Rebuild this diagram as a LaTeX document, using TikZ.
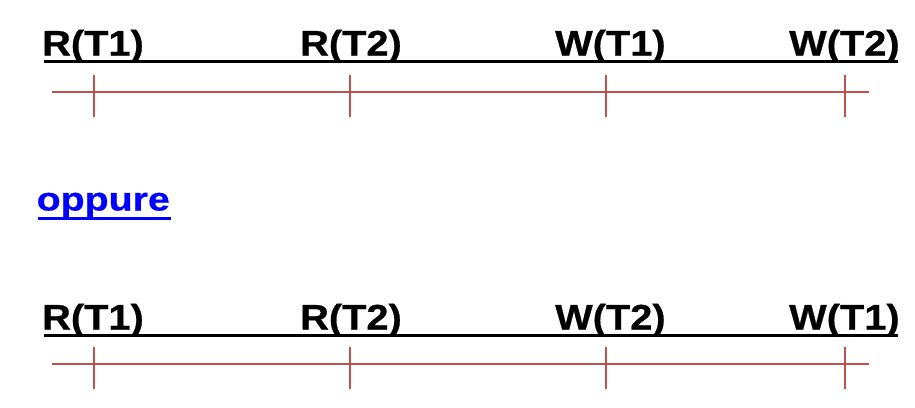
\documentclass[tikz,border=0pt]{standalone}
\usepackage{fontspec}
\setmainfont{Liberation Sans}[BoldFeatures={FakeBold=0.6}]
\definecolor{tickred}{RGB}{192,80,77}
\definecolor{linkblue}{RGB}{0,0,255}
\newcommand{\lbltext}[1]{\scalebox{1.12}[1]{#1}}
\newcommand{\linktext}[1]{\scalebox{1.19}[1]{#1}}
\begin{document}
\begin{tikzpicture}[x=1pt,y=-1pt,
  lbl/.style={anchor=base west, inner sep=0pt, font=\fontsize{35.5}{40}\selectfont\bfseries},
  baseline rule/.style={line width=3pt, black},
  timeline/.style={line width=1.8pt, tickred},
  tickmark/.style={line width=1.8pt, tickred}]
\useasboundingbox (0,0) rectangle (915,407);
% ---- top row
\node[lbl] (a1) at (42,55.5) {\lbltext{R(T1)}};
\node[lbl] (a2) at (300,55.5) {\lbltext{R(T2)}};
\node[lbl] (a3) at (555,55.5) {\lbltext{W(T1)}};
\node[lbl] (a4) at (789,55.5) {\lbltext{W(T2)}};
\coordinate (ua) at (44,61);
\coordinate (ub) at (898,61);
\draw[baseline rule] (ua) -- (ub);
\coordinate (ra) at (52,92);
\coordinate (rb) at (869,92);
\draw[timeline] (ra) -- (rb);
\foreach \x/\n in {94/1,350/2,606/3,845/4}{
  \coordinate (ta\n) at (\x,75);
  \coordinate (tb\n) at (\x,117);
  \draw[tickmark] (ta\n) -- (tb\n);
}
% ---- link
\node[anchor=base west, inner sep=0pt, text=linkblue,
      font=\fontsize{33}{38}\selectfont\bfseries] (link) at (36.5,210.5) {\linktext{oppure}};
\coordinate (la) at (38,218);
\coordinate (lb) at (171,218);
\draw[line width=3pt, linkblue] (la) -- (lb);
% ---- bottom row
\node[lbl] (b1) at (42,329.5) {\lbltext{R(T1)}};
\node[lbl] (b2) at (300,329.5) {\lbltext{R(T2)}};
\node[lbl] (b3) at (555,329.5) {\lbltext{W(T2)}};
\node[lbl] (b4) at (789,329.5) {\lbltext{W(T1)}};
\coordinate (va) at (44,335);
\coordinate (vb) at (898,335);
\draw[baseline rule] (va) -- (vb);
\coordinate (sa) at (52,364);
\coordinate (sb) at (869,364);
\draw[timeline] (sa) -- (sb);
\foreach \x/\n in {94/1,350/2,606/3,845/4}{
  \coordinate (pa\n) at (\x,347);
  \coordinate (pb\n) at (\x,389);
  \draw[tickmark] (pa\n) -- (pb\n);
}
\end{tikzpicture}
\end{document}
